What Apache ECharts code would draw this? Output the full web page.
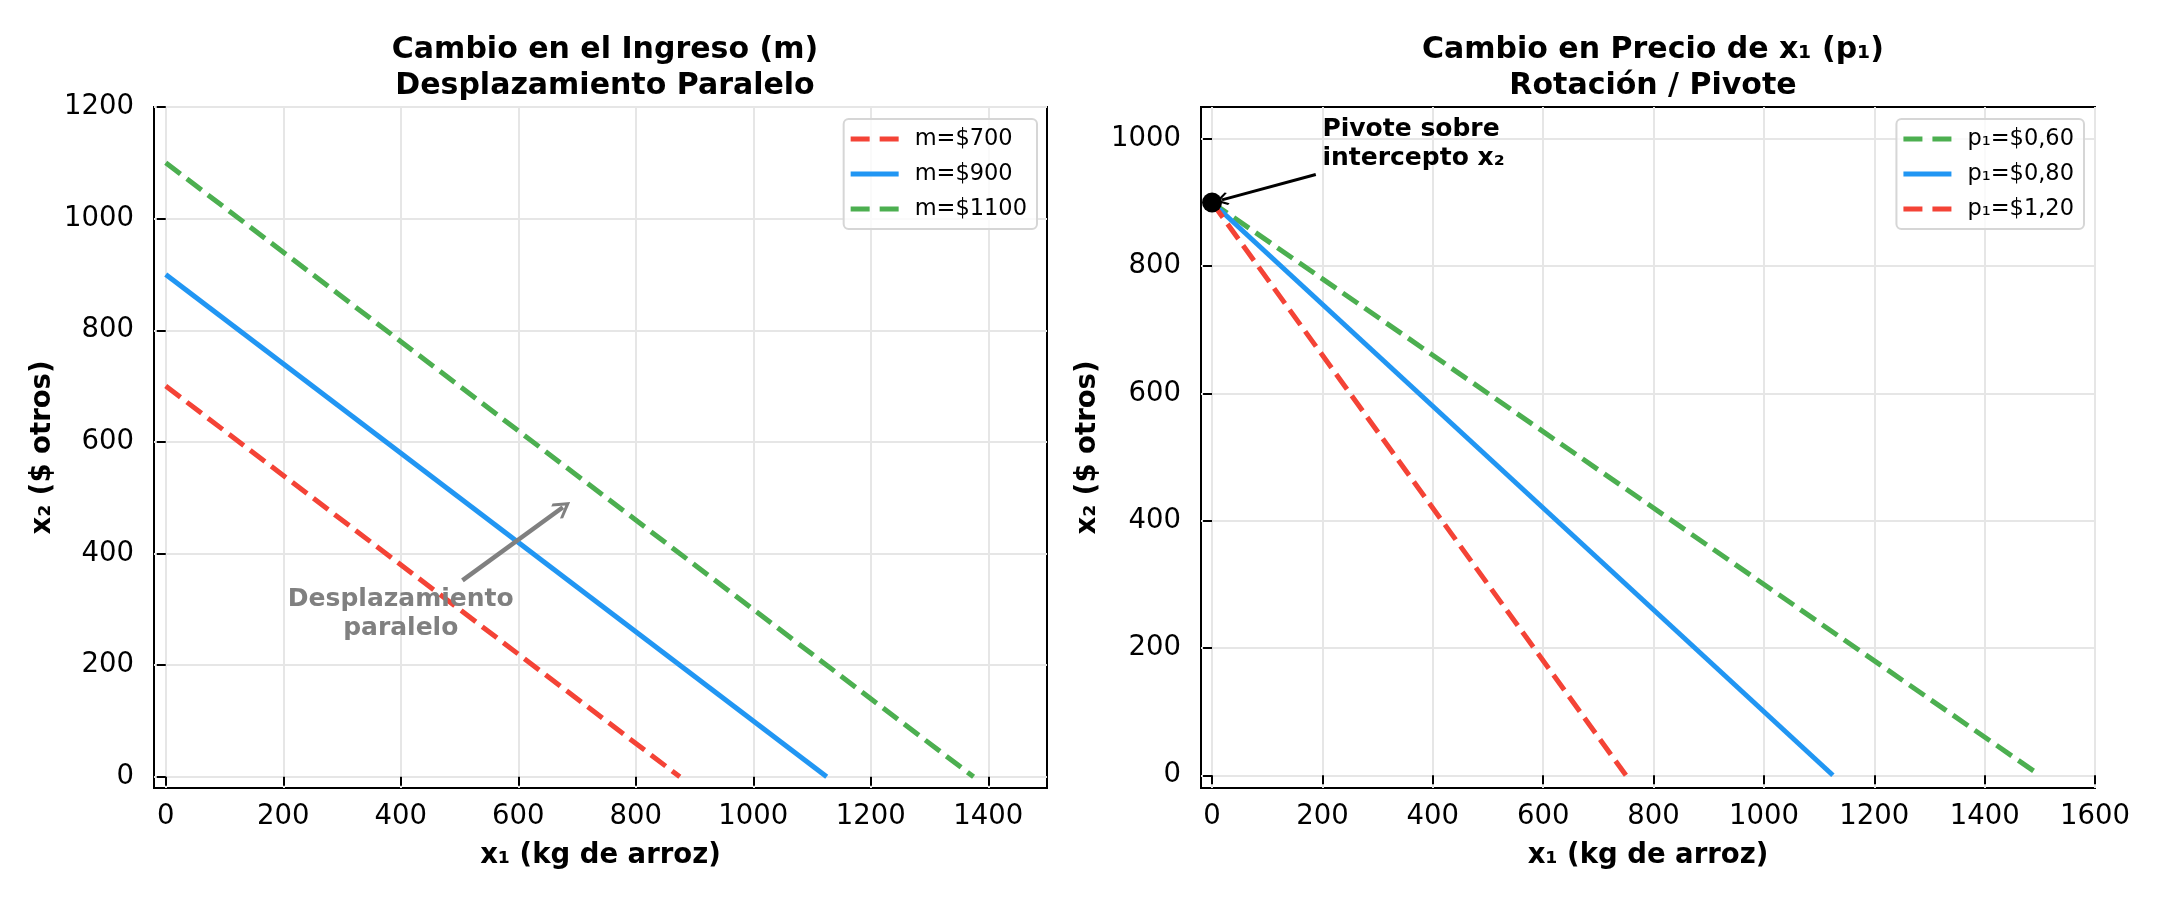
<!DOCTYPE html>
<html>
<head>
<meta charset="utf-8">
<script src="https://cdn.jsdelivr.net/npm/echarts@6/dist/echarts.min.js"></script>
<style>
  html, body { margin: 0; padding: 0; background: #fff; }
  #chart { width: 2160px; height: 900px; }
</style>
</head>
<body>
<div id="chart"></div>
<script>
// datos: cambio en el ingreso (izquierda)
const ingresoNombres = ['m=$700', 'm=$900', 'm=$1100']
const ingresoX = [[0, 875], [0, 1125], [0, 1375]]
const ingresoY = [[700, 0], [900, 0], [1100, 0]]
// datos: cambio en precio de x1 (derecha)
const precioNombres = ['p₁=$0,60', 'p₁=$0,80', 'p₁=$1,20']
const precioX = [[0, 1500], [0, 1125], [0, 750]]
const precioY = [[900, 0], [900, 0], [900, 0]]
// ticks
const ticksXIzq = [0, 200, 400, 600, 800, 1000, 1200, 1400]
const ticksYIzq = [0, 200, 400, 600, 800, 1000, 1200]
const ticksXDer = [0, 200, 400, 600, 800, 1000, 1200, 1400, 1600]
const ticksYDer = [0, 200, 400, 600, 800, 1000]

const FONT = "'DejaVu Sans', sans-serif"
const ROJO = '#F44336'
const AZUL = '#2196F3'
const VERDE = '#4CAF50'
const DASH = [18.5, 8]

// flecha abierta tipo '->'
const PUNTA = 'path://M0,0 L10,11 L8.2,13 L0,4.4 L-8.2,13 L-10,11 Z'
// iconos de leyenda
const ICONO_DASH = 'path://M0,0H19V5H0Z M29,0H48V5H29Z'
const ICONO_SOLIDO = 'path://M0,0H48V5H0Z'

function par(xs, ys) {
  return xs.map((x, i) => [x, ys[i]])
}

function eje(grid, min, max, ticks, name, gap, isX) {
  return {
    type: 'value',
    gridIndex: grid,
    min: min,
    max: max,
    name: name,
    nameLocation: 'middle',
    nameGap: gap,
    nameTextStyle: { fontFamily: FONT, fontWeight: 'bold', fontSize: 27.5, color: '#000' },
    axisLine: { show: false },
    axisTick: {
      show: true,
      length: 9,
      customValues: ticks,
      lineStyle: { color: '#000', width: 2 }
    },
    axisLabel: {
      customValues: ticks,
      formatter: v => String(v),
      fontFamily: FONT,
      fontSize: 27.5,
      color: '#000',
      margin: isX ? 15 : 20
    },
    splitLine: {
      show: true,
      lineStyle: { color: '#e6e6e6', width: 2 }
    }
  }
}

function linea(name, data, color, dashed, xi) {
  return {
    name: name,
    type: 'line',
    xAxisIndex: xi,
    yAxisIndex: xi,
    data: data,
    symbol: 'none',
    silent: true,
    z: 3,
    lineStyle: { color: color, width: 5, type: dashed ? DASH : 'solid', cap: 'butt' },
    itemStyle: { color: color }
  }
}

let ingresoColores = [ROJO, AZUL, VERDE]
let ingresoDash = [true, false, true]
let precioColores = [VERDE, AZUL, ROJO]
let precioDash = [true, false, true]

let series = []
ingresoNombres.forEach((n, i) => {
  series.push(linea(n, par(ingresoX[i], ingresoY[i]), ingresoColores[i], ingresoDash[i], 0))
})
precioNombres.forEach((n, i) => {
  series.push(linea(n, par(precioX[i], precioY[i]), precioColores[i], precioDash[i], 1))
})

// anotación izquierda
series.push({
  type: 'lines',
  coordinateSystem: 'cartesian2d',
  xAxisIndex: 0,
  yAxisIndex: 0,
  silent: true,
  z: 5,
  symbol: ['none', PUNTA],
  symbolSize: [20, 18],
  lineStyle: { color: '#808080', width: 4.5, opacity: 1, curveness: 0 },
  data: [{ coords: [[505, 352], [676, 483]] }]
})
series.push({
  type: 'scatter',
  xAxisIndex: 0,
  yAxisIndex: 0,
  silent: true,
  symbolSize: 0,
  z: 5,
  itemStyle: { opacity: 1 },
  data: [[400, 292]],
  label: {
    show: true,
    position: 'inside',
    formatter: 'Desplazamiento\nparalelo',
    fontFamily: FONT,
    fontWeight: 'bold',
    fontSize: 25,
    lineHeight: 29,
    align: 'center',
    verticalAlign: 'middle',
    color: '#808080',
    opacity: 1
  }
})

// anotación derecha: pivote
series.push({
  type: 'scatter',
  xAxisIndex: 1,
  yAxisIndex: 1,
  silent: true,
  symbolSize: 20,
  z: 6,
  itemStyle: { color: '#000', opacity: 1 },
  data: [[0, 900]]
})
series.push({
  type: 'lines',
  coordinateSystem: 'cartesian2d',
  xAxisIndex: 1,
  yAxisIndex: 1,
  silent: true,
  z: 6,
  symbol: ['none', PUNTA],
  symbolSize: [15, 13],
  lineStyle: { color: '#000', width: 3, opacity: 1, curveness: 0 },
  data: [{ coords: [[188, 944], [18, 904]] }]
})
series.push({
  type: 'scatter',
  xAxisIndex: 1,
  yAxisIndex: 1,
  silent: true,
  symbolSize: 0,
  z: 6,
  itemStyle: { opacity: 1 },
  data: [[200, 947]],
  label: {
    show: true,
    position: 'inside',
    formatter: 'Pivote sobre\nintercepto x₂',
    fontFamily: FONT,
    fontWeight: 'bold',
    fontSize: 25,
    lineHeight: 29,
    align: 'left',
    verticalAlign: 'bottom',
    color: '#000',
    opacity: 1
  }
})

function leyenda(nombres, dashes, right) {
  return {
    data: nombres.map((n, i) => ({ name: n, icon: dashes[i] ? ICONO_DASH : ICONO_SOLIDO })),
    orient: 'vertical',
    right: right,
    top: 119,
    itemWidth: 48,
    itemHeight: 5,
    itemGap: 11,
    padding: [8, 10, 8, 7],
    backgroundColor: 'rgba(255,255,255,0.8)',
    borderColor: '#d6d6d6',
    borderWidth: 2,
    borderRadius: 5,
    selectedMode: false,
    textStyle: { fontFamily: FONT, fontSize: 22.5, lineHeight: 24, color: '#000', padding: [0, 0, 0, 11] }
  }
}

let tituloStyle = { fontFamily: FONT, fontWeight: 'bold', fontSize: 30, lineHeight: 36, color: '#000' }

let option = {
  backgroundColor: '#fff',
  animation: false,
  title: [
    { text: 'Cambio en el Ingreso (m)\nDesplazamiento Paralelo', left: 600, top: 27, textAlign: 'center', textStyle: tituloStyle },
    { text: 'Cambio en Precio de x₁ (p₁)\nRotación / Pivote', left: 1648, top: 27, textAlign: 'center', textStyle: tituloStyle }
  ],
  legend: [
    leyenda(ingresoNombres, ingresoDash, 1123),
    leyenda(precioNombres, precioDash, 76)
  ],
  grid: [
    { left: 154, top: 107, width: 893, height: 681, show: true, borderColor: '#000', borderWidth: 2, backgroundColor: 'transparent' },
    { left: 1201, top: 107, width: 894, height: 681, show: true, borderColor: '#000', borderWidth: 2, backgroundColor: 'transparent' }
  ],
  xAxis: [
    eje(0, -20, 1500, ticksXIzq, 'x₁ (kg de arroz)', 54, true),
    eje(1, -20, 1600, ticksXDer, 'x₁ (kg de arroz)', 54, true)
  ],
  yAxis: [
    eje(0, -20, 1200, ticksYIzq, 'x₂ ($ otros)', 97, false),
    eje(1, -20, 1050, ticksYDer, 'x₂ ($ otros)', 99, false)
  ],
  series: series
}

let myChart = echarts.init(document.getElementById('chart'))
myChart.setOption(option)
</script>
</body>
</html>
